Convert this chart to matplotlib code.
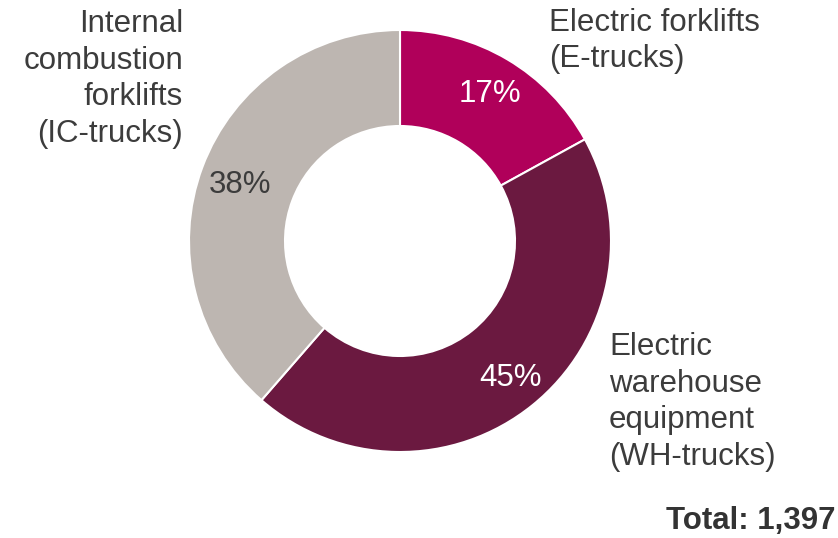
import matplotlib.pyplot as plt

plt.rcParams['font.family'] = ['Liberation Sans', 'DejaVu Sans']

labels = ['Electric forklifts\n(E-trucks)',
          'Electric\nwarehouse\nequipment\n(WH-trucks)',
          'Internal\ncombustion\nforklifts\n(IC-trucks)']
# wedge sizes as drawn, and the percentage labels as printed
shares = [17.0, 44.4, 38.6]
pct_labels = ['17%', '45%', '38%']
colors = ['#B0005A', '#6B1940', '#BDB6B1']
pct_colors = ['white', 'white', '#3C3C3C']
total = '1,397'

W, H = 838, 538
fig = plt.figure(figsize=(W / 100, H / 100), dpi=100)

# donut centred at (400, 241) px, outer radius 211 px
cx, cy, r = 400, 241, 211
ax = fig.add_axes([(cx - r) / W, (H - cy - r) / H, 2 * r / W, 2 * r / H])
wedges, _ = ax.pie(shares, colors=colors, startangle=90, counterclock=False,
                   radius=1, wedgeprops=dict(width=0.455, edgecolor='white', linewidth=1.5))
ax.set_xlim(-1, 1)
ax.set_ylim(-1, 1)
ax.set_aspect('equal')
ax.axis('off')

txt = '#3C3C3C'
fs = 22.5


def fx(px):
    return px / W


def fy(py):
    return 1 - py / H


# percentage labels
pct_pos = [(490, 94), (511, 378), (240, 185)]
for s, (px, py), c in zip(pct_labels, pct_pos, pct_colors):
    fig.text(fx(px), fy(py), s, color=c, fontsize=fs, ha='center', va='center')

# category labels
ls = 1.3
fig.text(fx(549), fy(41), labels[0], color=txt, fontsize=fs, ha='left', va='center',
         linespacing=ls)
fig.text(fx(609), fy(402), labels[1], color=txt, fontsize=fs, ha='left', va='center',
         linespacing=ls)
fig.text(fx(183), fy(79), labels[2], color=txt, fontsize=fs, ha='right', va='center',
         multialignment='right', linespacing=ls)

fig.text(fx(835), fy(521), f'Total: {total}', color='#333333', fontsize=fs,
         fontweight='bold', ha='right', va='center')

fig.savefig('out.png', dpi=100)
